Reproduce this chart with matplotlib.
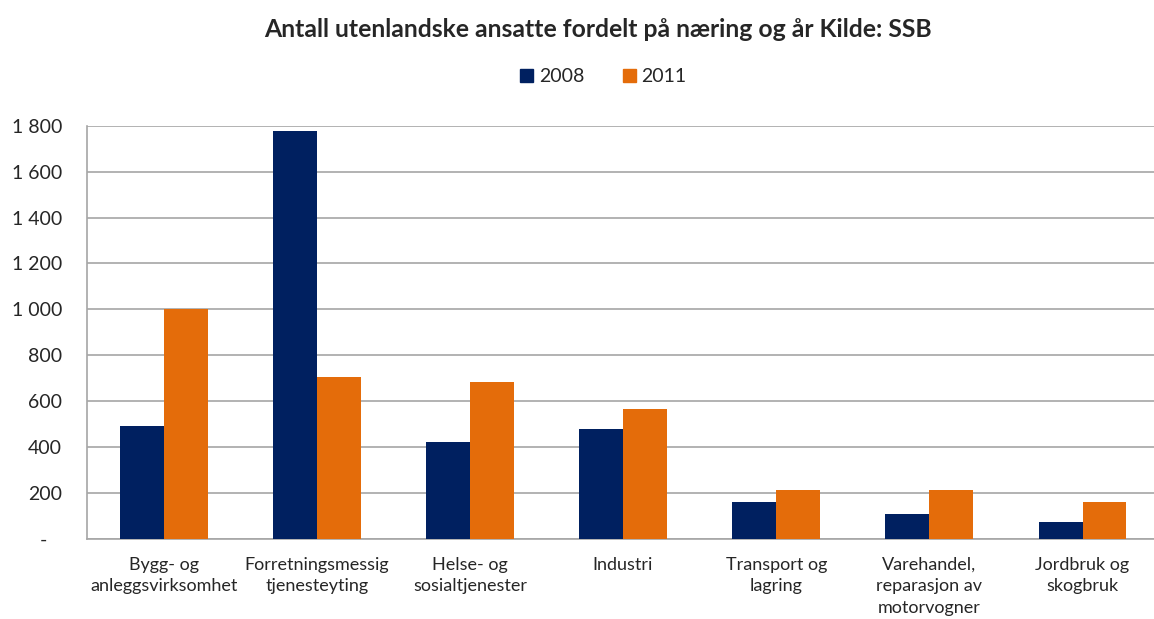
import numpy as np
import matplotlib.pyplot as plt
from matplotlib.patches import Patch

plt.rcParams['font.family'] = ['Lato', 'DejaVu Sans']

categories = ['Bygg- og\nanleggsvirksomhet', 'Forretningsmessig\ntjenesteyting',
              'Helse- og\nsosialtjenester', 'Industri', 'Transport og\nlagring',
              'Varehandel,\nreparasjon av\nmotorvogner', 'Jordbruk og\nskogbruk']
ansatte_2008 = [489, 1776, 423, 480, 160, 107, 73]
ansatte_2011 = [1003, 706, 681, 567, 212, 210, 160]
yticks = [0, 200, 400, 600, 800, 1000, 1200, 1400, 1600, 1800]
ytick_labels = ['-   ', '200', '400', '600', '800', '1 000', '1 200', '1 400', '1 600', '1 800']

navy = '#002060'
orange = '#E46C0A'
grid_col = '#a6a6a6'
txt_col = '#262626'

fig = plt.figure(figsize=(11.54, 6.19), dpi=100)
ax = fig.add_axes([0.0754, 0.130, 0.929, 0.6665])

x = np.arange(len(categories))
w = 0.287
ax.bar(x - w / 2, ansatte_2008, width=w, color=navy, zorder=3)
ax.bar(x + w / 2, ansatte_2011, width=w, color=orange, zorder=3)

ax.set_xlim(-0.5, len(categories) - 0.5)
ax.set_ylim(0, 1800)
ax.set_yticks(yticks)
ax.set_yticklabels(ytick_labels)
ax.set_xticks(x)
ax.set_xticklabels(categories, linespacing=1.42)
ax.tick_params(axis='y', length=0, pad=18, labelsize=14, labelcolor=txt_col)
ax.tick_params(axis='x', length=0, pad=13, labelsize=13, labelcolor=txt_col)
ax.grid(axis='y', color=grid_col, lw=1.2, zorder=0)

for s in ['top', 'right']:
    ax.spines[s].set_visible(False)
for s in ['left', 'bottom']:
    ax.spines[s].set_color(grid_col)
    ax.spines[s].set_linewidth(1.2)

fig.text(0.518, 0.952, 'Antall utenlandske ansatte fordelt på næring og år Kilde: SSB',
         ha='center', va='center', fontsize=17.8, fontweight='bold', color=txt_col)

handles = [Patch(color=navy, label='2008'), Patch(color=orange, label='2011')]
fig.legend(handles=handles, loc='center', bbox_to_anchor=(0.523, 0.876), ncol=2,
           frameon=False, fontsize=14, handlelength=0.65, handleheight=0.65,
           handletextpad=0.3, columnspacing=2.0, labelcolor=txt_col)

fig.savefig('out.png', dpi=100)
